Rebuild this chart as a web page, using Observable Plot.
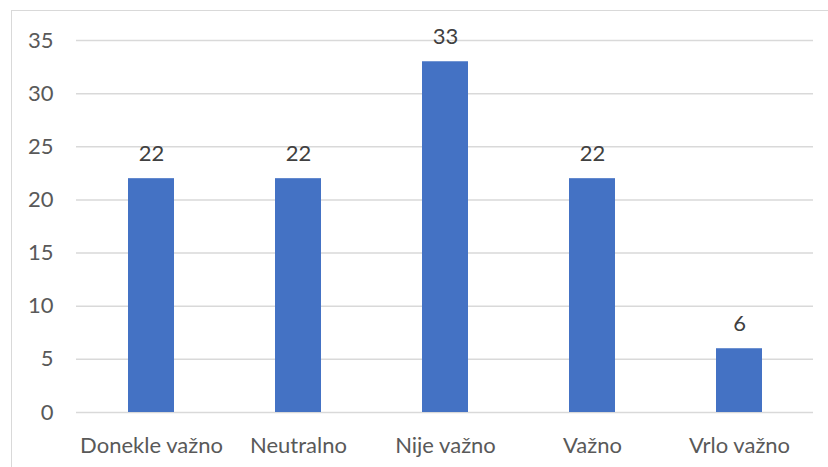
<!DOCTYPE html>
<html>
<head>
<meta charset="utf-8">
<script src="https://cdn.jsdelivr.net/npm/d3@7"></script>
<script src="https://cdn.jsdelivr.net/npm/@observablehq/plot@0.6"></script>
<style>
  html, body { margin: 0; padding: 0; background: #fff; overflow: hidden; }
  #wrap { position: relative; width: 828px; height: 467px; }
  #frame { position: absolute; left: 11px; top: 10px; width: 840px; height: 480px; border: 1.5px solid #d9d9d9; box-sizing: border-box; }
  #chart { position: absolute; left: 0; top: 0; }
</style>
</head>
<body>
<div id="wrap"><div id="frame"></div><div id="chart"></div></div>
<script>
const categories = ["Donekle važno", "Neutralno", "Nije važno", "Važno", "Vrlo važno"];
const values = [22, 22, 33, 22, 6];
const yTicks = [0, 5, 10, 15, 20, 25, 30, 35];

const data = categories.map((c, i) => ({category: c, value: values[i]}));

const FS = 22;
const chart = Plot.plot({
  width: 828,
  height: 467,
  marginLeft: 76,
  marginRight: 15,
  marginTop: 40,
  marginBottom: 55,
  style: {fontFamily: "Lato, 'Open Sans', sans-serif", fontSize: FS + "px", color: "#595959", background: "transparent"},
  x: {domain: categories, paddingInner: 0.69, paddingOuter: 0.345, label: null},
  y: {domain: [0, 35], ticks: yTicks, label: null},
  marks: [
    Plot.ruleY(yTicks, {stroke: "#d9d9d9", strokeWidth: 1.5}),
    Plot.barY(data, {x: "category", y: "value", fill: "#4472c4"}),
    Plot.text(data, {x: "category", y: "value", text: d => String(d.value), dy: -25, fill: "#404040", fontSize: FS}),
    Plot.axisY({ticks: yTicks, tickSize: 0, tickPadding: 23, fontSize: FS, fill: "#595959"}),
    Plot.axisX({tickSize: 0, tickPadding: 25, fontSize: FS, fill: "#595959"})
  ]
});
document.getElementById("chart").appendChild(chart);
</script>
</body>
</html>
